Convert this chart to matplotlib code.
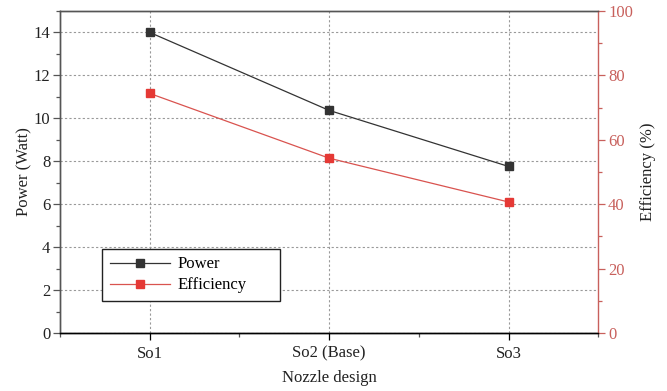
import matplotlib.pyplot as plt
from matplotlib.ticker import MultipleLocator

designs = ['So1', 'So2 (Base)', 'So3']
power = [14.0, 10.37, 7.76]       # Watt
efficiency = [74.4, 54.3, 40.7]   # %

plt.rcParams['font.family'] = ['Liberation Serif', 'DejaVu Serif']
plt.rcParams['font.size'] = 12

GREY = '#555555'
RED = '#d9534f'
RED_TXT = '#c8605c'
TXT = '#222222'

fig = plt.figure(figsize=(6.67, 3.91), dpi=100)
ax = fig.add_axes([0.09, 0.148, 0.807, 0.824])
ax2 = ax.twinx()

x = [1, 2, 3]
l1, = ax.plot(x, power, color='#333333', lw=0.9, marker='s', ms=5.5,
              mfc='#333333', mec='#333333', label='Power')
l2, = ax2.plot(x, efficiency, color=RED, lw=0.9, marker='s', ms=5.5,
               mfc='#e53935', mec='#e53935', label='Efficiency')

ax.set_xlim(0.5, 3.5)
ax.set_ylim(0, 15)
ax2.set_ylim(0, 100)

ax.set_xticks(x)
ax.set_xticklabels(designs)
ax.xaxis.set_minor_locator(MultipleLocator(0.5))
ax.yaxis.set_major_locator(MultipleLocator(2))
ax.yaxis.set_minor_locator(MultipleLocator(1))
ax2.yaxis.set_major_locator(MultipleLocator(20))
ax2.yaxis.set_minor_locator(MultipleLocator(10))

# grid from the left axis
ax.grid(True, which='major', color='#999999', ls=(0, (2, 2)), lw=0.8)
ax.set_axisbelow(True)

ax.tick_params(axis='both', which='major', direction='out', length=5, width=0.9,
               color=GREY, pad=2)
ax.tick_params(axis='both', which='minor', direction='out', length=3, width=0.9, color=GREY)
ax.tick_params(axis='x', colors='black', labelcolor=TXT, pad=4)
ax.tick_params(axis='y', labelcolor=TXT)
ax2.tick_params(axis='y', which='major', direction='out', length=5, width=0.9,
                color=RED_TXT, labelcolor=RED_TXT, pad=2)
ax2.tick_params(axis='y', which='minor', direction='out', length=3, width=0.9, color=RED_TXT)

for s in ['left', 'top']:
    ax.spines[s].set_color(GREY)
    ax2.spines[s].set_color(GREY)
ax.spines['bottom'].set_color('black')
ax2.spines['bottom'].set_color('black')
ax2.spines['right'].set_color(RED_TXT)
ax.spines['right'].set_visible(False)
for sp in list(ax.spines.values()) + list(ax2.spines.values()):
    sp.set_linewidth(1.0)

ax.set_ylabel('Power (Watt)', color=TXT, labelpad=1)
ax2.set_ylabel('Efficiency (%)', color=TXT, labelpad=5)
ax.set_xlabel('Nozzle design', color=TXT, labelpad=6)

leg = ax.legend(handles=[l1, l2], loc='lower left',
                bbox_to_anchor=(0.078, 0.1, 0.33, 0.15), mode='expand',
                frameon=True, fancybox=False, edgecolor=TXT,
                handlelength=3.6, borderpad=0.45, labelspacing=0.3,
                handletextpad=0.5, borderaxespad=0)
leg.get_frame().set_linewidth(1.0)
leg.get_frame().set_alpha(1)

fig.savefig('out.png', dpi=100)
